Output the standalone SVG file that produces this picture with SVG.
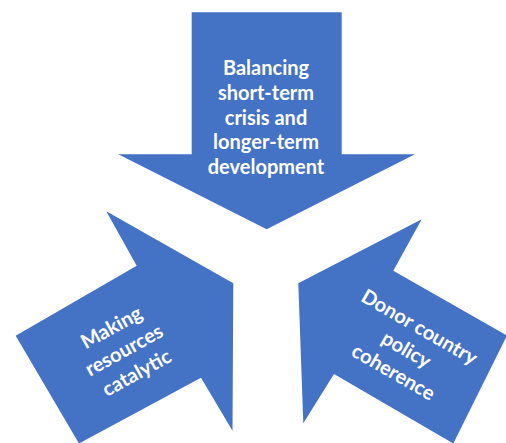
<svg xmlns="http://www.w3.org/2000/svg" width="506" height="443" viewBox="0 0 506 443">
  <style>
    .arrow { fill: #4472C4; stroke: none; }
    .lbl { fill: #FFFFFF; font-family: Lato, "Open Sans", "Liberation Sans", sans-serif; font-weight: bold; font-size: 20px; text-anchor: middle; }
  </style>
  <rect x="0" y="0" width="506" height="443" fill="#FFFFFF"/>
  <g id="connectors"></g>
  <g id="node-top">
    <polygon class="arrow" points="191.7,12.3 341.7,12.3 341.7,154.3 415,154.3 266.7,229.3 118.3,154.3 191.7,154.3"/>
    <text class="lbl" x="266" y="75">Balancing</text>
    <text class="lbl" x="266" y="100">short-term</text>
    <text class="lbl" x="266" y="124.5">crisis and</text>
    <text class="lbl" x="266" y="149">longer-term</text>
    <text class="lbl" x="266" y="173.5">development</text>
  </g>
  <g id="node-left">
    <polygon class="arrow" points="106.3,211.3 233.3,283.3 232.5,430.7 201,377.7 79,443.5 15.7,335.7 136.7,265.7"/>
    <g transform="translate(124,350) rotate(-29)">
      <text class="lbl" x="0" y="-19">Making</text>
      <text class="lbl" x="0" y="7">resources</text>
      <text class="lbl" x="0" y="33">catalytic</text>
    </g>
  </g>
  <g id="node-right">
    <polygon class="arrow" points="421.7,219.3 393.3,270.7 507,335.5 453.3,443.5 334,374 303.3,423.3 298.3,283.3"/>
    <g transform="translate(406.5,349.5) rotate(30)">
      <text class="lbl" x="0" y="-19">Donor country</text>
      <text class="lbl" x="0" y="7">policy</text>
      <text class="lbl" x="0" y="33">coherence</text>
    </g>
  </g>
</svg>
